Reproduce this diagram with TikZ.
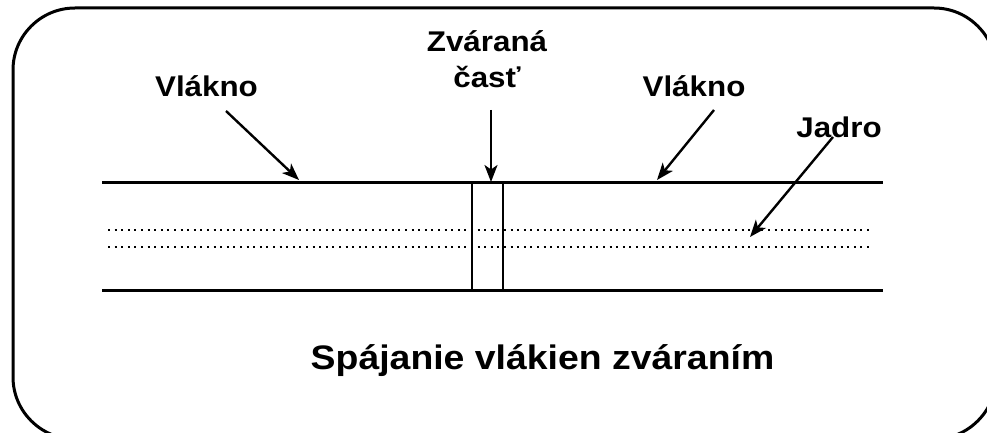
\documentclass[tikz,border=0pt]{standalone}
\usepackage{fontspec}
\setmainfont{Liberation Sans}
\usetikzlibrary{arrows.meta}
\newcommand{\wtxt}[1]{\scalebox{1.1}[1]{#1}}
\tikzset{
  lbl/.style={font=\fontsize{28.5}{34}\selectfont\bfseries, inner sep=0pt, anchor=base},
  captext/.style={font=\fontsize{34}{40}\selectfont\bfseries, inner sep=0pt, anchor=base},
  fiber/.style={line width=3pt},
  core/.style={line width=2pt, dash pattern=on 2pt off 4.6pt},
  ptr/.style={line width=2.4pt, -{Stealth[length=17pt,width=13pt,inset=4.5pt]}},
  frame/.style={line width=3pt, rounded corners=62pt}
}
\begin{document}
\begin{tikzpicture}[x=1pt,y=-1pt]
\useasboundingbox (0,0) rectangle (987,433);
\draw[frame] (13,8) rectangle (996,439);
% fiber
\coordinate (tl) at (102,182); \coordinate (tr) at (883,182);
\coordinate (bl) at (102,290); \coordinate (br) at (883,290);
\draw[fiber] (tl) -- (tr);
\draw[fiber] (bl) -- (br);
\coordinate (c1l) at (108,230); \coordinate (c1r) at (869,230);
\coordinate (c2l) at (108,247); \coordinate (c2r) at (869,247);
\draw[core] (c1l) -- (c1r);
\draw[core] (c2l) -- (c2r);
% weld
\node[draw, line width=2.4pt, minimum width=31pt, minimum height=108pt, inner sep=0pt] (weld) at (487.5,236) {};
% labels
\node[lbl] (v1) at (206.5,97) {\wtxt{Vlákno}};
\node[lbl] (v2) at (694,97) {\wtxt{Vlákno}};
\node[lbl] (z1) at (487,52) {\wtxt{Zváraná}};
\node[lbl] (z2) at (487,88) {\wtxt{časť}};
\node[lbl] (j) at (839,137) {\wtxt{Jadro}};
\node[captext] (title) at (542.5,369) {\wtxt{Spájanie vlákien zváraním}};
% arrows
\coordinate (a1s) at (226,111); \coordinate (a1e) at (299,180);
\coordinate (a2s) at (714,110); \coordinate (a2e) at (657,180);
\coordinate (a3s) at (491,110); \coordinate (a3e) at (491,182);
\coordinate (a4s) at (833,137); \coordinate (a4e) at (750,237);
\draw[ptr] (a1s) -- (a1e);
\draw[ptr] (a2s) -- (a2e);
\draw[ptr] (a3s) -- (a3e);
\draw[ptr] (a4s) -- (a4e);
\end{tikzpicture}
\end{document}
